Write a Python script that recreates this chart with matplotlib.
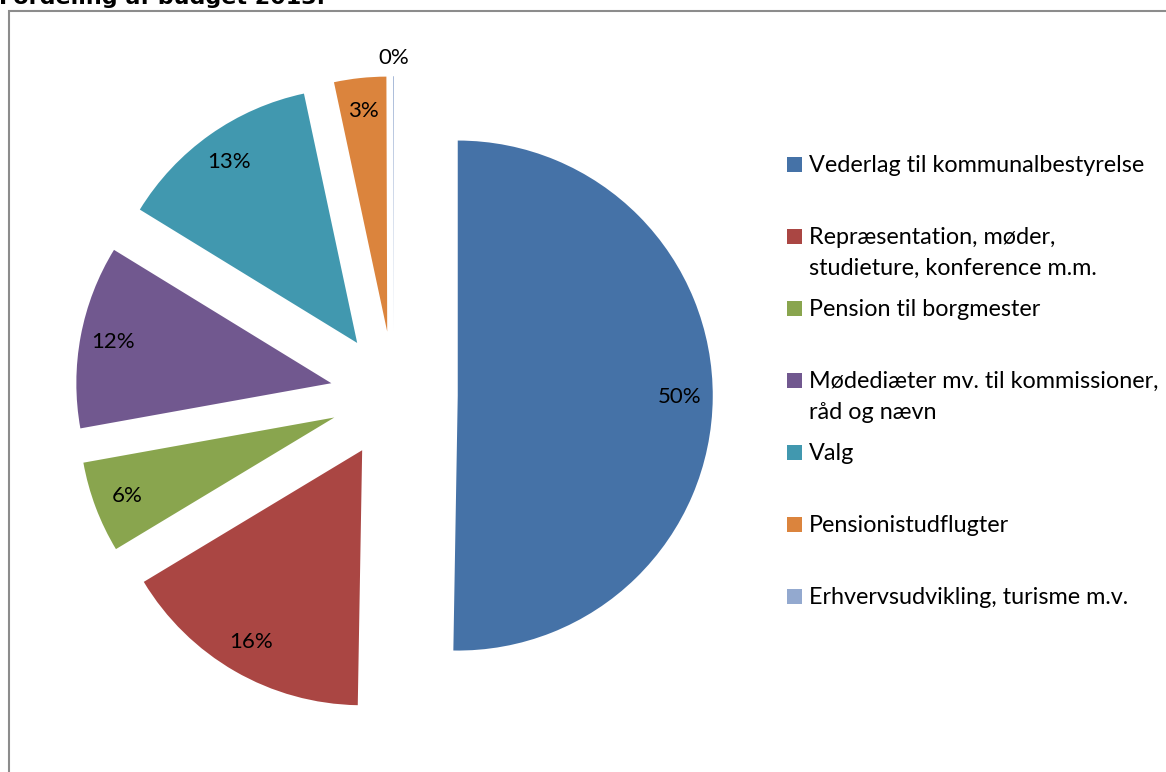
import numpy as np
import matplotlib.pyplot as plt
from matplotlib.patches import Rectangle

# Data: budget shares (percent)
categories = [
    "Vederlag til kommunalbestyrelse",
    "Repræsentation, møder,\nstudieture, konference m.m.",
    "Pension til borgmester",
    "Mødediæter mv. til kommissioner,\nråd og nævn",
    "Valg",
    "Pensionistudflugter",
    "Erhvervsudvikling, turisme m.v.",
]
shares = [50.3, 16.1, 5.8, 11.6, 12.9, 3.3, 0.05]
colors = ["#4572A7", "#AA4643", "#89A54E", "#71588F", "#4198AF", "#DB843D", "#93A9CF"]
title = "Fordeling af budget 2013."

W, H = 1166, 772
fig = plt.figure(figsize=(W / 100, H / 100), dpi=100)
fig.patch.set_facecolor("white")

# pie axes covering the whole figure, 1 data unit = 255 px, centre at (394, 395) px
R = 255.0
cx, cy = 394.0, 395.0
ax = fig.add_axes([0, 0, 1, 1])

font = "Lato"
wedges, texts, autotexts = ax.pie(
    shares, colors=colors, startangle=90, counterclock=False,
    explode=[0.25] * len(shares), autopct="%.0f%%", pctdistance=0.87,
    wedgeprops=dict(linewidth=0), textprops=dict(fontsize=16, family=font, color="black"),
)
ax.set_aspect("auto")
ax.set_xlim(-cx / R, (W - cx) / R)
ax.set_ylim((cy - H) / R, cy / R)
ax.axis("off")

# the tiny slice gets its label outside the pie
w = wedges[-1]
mid = np.deg2rad((w.theta1 + w.theta2) / 2)
autotexts[-1].set_position((w.center[0] + 1.07 * np.cos(mid), w.center[1] + 1.07 * np.sin(mid)))

# title (cut off at the top as in the original)
fig.text(-0.001, 1 - 4 / H, title, fontsize=16, fontweight="bold", family="DejaVu Sans",
         va="baseline", ha="left")

# chart frame
fig.patches.append(Rectangle((9 / W, -0.1), 1.2, (H - 11) / H + 0.1, transform=fig.transFigure,
                             fill=False, edgecolor="#8c8c8c", linewidth=1.5))

# legend: square aligned with the first line of each entry
for i, (lab, col) in enumerate(zip(categories, colors)):
    base = 172 + 72 * i
    fig.patches.append(Rectangle((787 / W, 1 - base / H), 15 / W, 15 / H,
                                 transform=fig.transFigure, facecolor=col, edgecolor="none"))
    for j, line in enumerate(lab.split("\n")):
        fig.text(809 / W, 1 - (base + 31 * j) / H, line, fontsize=16.8, family=font,
                 va="baseline", ha="left")

fig.savefig("out.png", dpi=100)
